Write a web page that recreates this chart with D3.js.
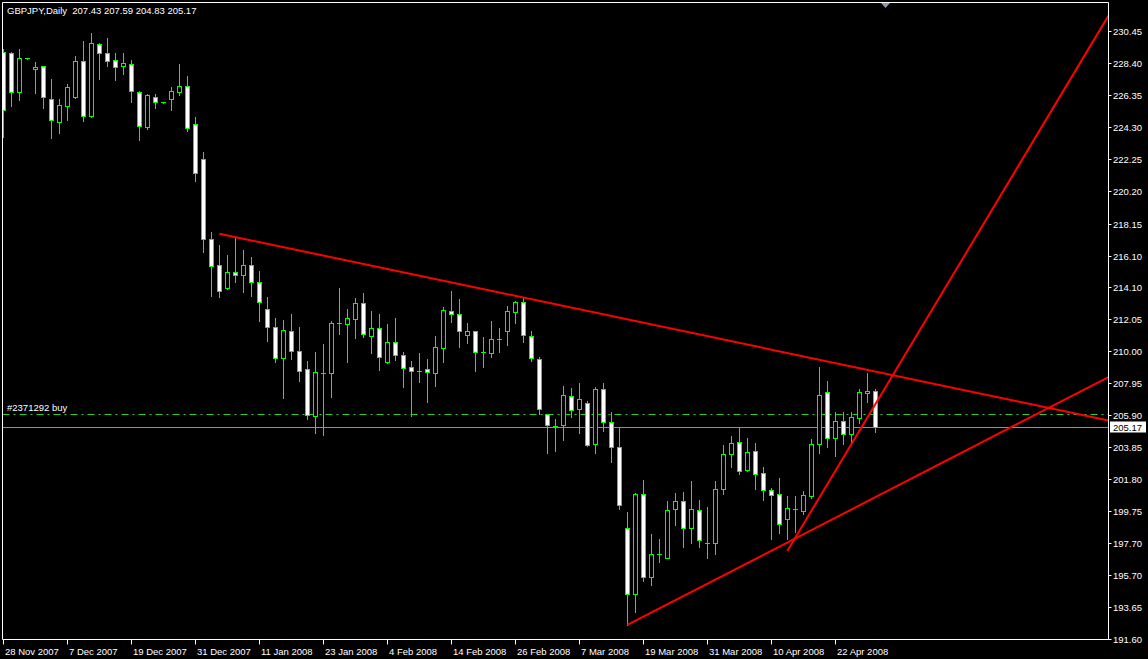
<!DOCTYPE html>
<html><head><meta charset="utf-8">
<script src="https://cdn.jsdelivr.net/npm/d3@7"></script>
<style>
html,body{margin:0;padding:0;background:#000;}
svg{display:block;}
text{font-family:"Liberation Sans",Arial,sans-serif;}
</style></head>
<body>
<svg id="chart" width="1148" height="659"></svg>
<script>
const opens  = [229.14,229.04,226.58,228.72,228.06,228.21,226.13,224.66,225.69,226.24,228.54,225.05,229.63,229.04,228.59,228.21,228.33,226.54,224.35,226.26,225.90,226.10,226.58,226.93,224.50,222.26,217.14,215.48,214.05,215.03,214.84,215.48,214.39,212.67,211.52,209.54,211.26,209.98,208.83,205.83,208.60,208.58,211.77,211.75,212.03,213.05,210.98,211.45,209.32,210.56,209.77,208.96,208.74,208.83,208.61,210.21,212.54,212.35,211.01,211.26,209.92,209.89,210.77,211.30,212.51,213.12,210.94,209.47,205.95,205.23,205.25,207.11,206.27,206.66,204.04,207.55,205.44,203.84,198.67,194.45,200.84,195.57,197.04,196.79,199.88,200.39,198.67,199.82,197.74,197.71,201.16,203.40,204.16,202.41,203.59,202.18,201.10,200.84,199.28,199.88,199.79,200.75,204.04,207.36,204.42,205.51,204.68,205.70,207.30,207.43];
const highs  = [229.31,229.10,229.31,228.74,228.48,228.25,227.39,226.11,227.07,228.86,229.82,230.33,229.68,230.02,229.06,229.06,228.61,226.62,226.43,226.43,225.92,226.86,228.35,227.59,224.96,222.73,217.59,216.76,216.12,217.23,216.44,215.99,215.12,213.44,212.09,211.96,212.37,211.54,209.36,209.92,210.45,211.92,214.01,212.67,213.37,213.69,212.56,212.37,211.73,212.11,209.96,209.38,209.87,209.49,210.96,212.82,213.84,213.33,211.79,211.30,210.90,211.92,211.47,212.88,213.22,213.47,211.28,209.60,205.97,205.65,207.76,207.62,207.94,206.79,207.72,207.94,206.08,205.12,199.69,200.90,201.75,198.30,197.98,200.41,200.92,200.99,201.69,200.47,200.03,201.69,203.99,204.57,205.10,204.42,204.10,202.57,201.22,201.90,200.73,200.75,201.03,204.36,208.96,208.06,206.08,206.08,206.08,207.55,208.58,207.59];
const lows   = [223.68,225.67,226.05,228.70,226.50,225.56,223.64,223.96,224.79,226.20,224.73,224.98,227.41,228.24,227.35,227.73,225.94,223.51,224.22,225.56,225.88,225.43,226.39,224.09,220.89,216.35,213.54,213.47,213.97,214.43,213.79,213.54,211.92,210.66,209.32,206.98,209.47,208.10,205.63,204.74,204.61,207.08,211.07,209.32,210.85,210.92,209.89,208.79,209.22,209.43,207.72,205.87,208.04,206.76,207.78,209.32,211.88,210.28,210.53,208.74,209.00,209.64,209.96,210.39,211.81,210.60,209.38,205.95,203.46,203.63,204.31,205.80,204.78,203.95,203.50,204.91,202.92,199.88,192.48,193.33,195.31,195.04,196.53,196.75,198.88,197.49,197.74,197.49,196.79,197.00,200.84,202.60,202.16,202.30,201.16,200.49,198.00,198.38,198.00,198.43,199.60,200.60,203.50,203.88,203.31,204.07,204.12,205.38,206.72,204.83];
const closes = [225.41,226.58,228.72,228.72,228.16,226.22,224.75,225.71,226.86,228.54,225.05,229.68,229.04,228.52,228.14,228.42,226.61,224.37,226.35,225.90,225.90,226.61,226.93,224.24,221.36,217.14,215.46,213.82,215.03,214.84,215.48,214.39,213.12,211.52,209.54,211.33,209.98,208.70,205.89,208.64,208.62,211.77,211.77,212.09,213.05,211.07,211.45,209.64,210.56,209.77,208.93,208.70,208.74,208.64,210.24,212.60,212.35,211.26,211.26,209.92,209.92,210.75,210.77,212.54,213.12,211.01,209.54,206.27,205.25,205.23,207.17,206.21,206.91,203.97,207.55,205.44,203.84,200.14,194.45,200.84,195.53,197.02,197.04,199.82,200.39,198.67,199.88,197.90,197.74,201.16,203.42,204.10,202.31,203.52,202.12,201.10,200.81,198.96,199.94,199.88,200.78,204.06,207.17,204.42,205.51,204.68,205.76,207.36,207.43,205.17];

const dateLabels = ["28 Nov 2007","7 Dec 2007","19 Dec 2007","31 Dec 2007","11 Jan 2008","23 Jan 2008","4 Feb 2008","14 Feb 2008","26 Feb 2008","7 Mar 2008","19 Mar 2008","31 Mar 2008","10 Apr 2008","22 Apr 2008"];
const barsPerDateLabel = 8;
const priceTicks = [230.45,228.40,226.35,224.30,222.25,220.20,218.15,216.10,214.10,212.05,210.00,207.95,205.90,203.85,201.80,199.75,197.70,195.70,193.65,191.60];

const symbolTitle = "GBPJPY,Daily";
const orderLabel = "#2371292 buy";
const orderPrice = 205.95;
const bidPrice = 205.17;

// trend lines: [startBar, startPrice, secondBar, secondPrice]
const trendStartBar   = [27, 78, 98];
const trendStartPrice = [217.50, 192.48, 197.21];
const trendEndBar     = [109, 109, 109];
const trendEndPrice   = [208.69, 200.65, 206.59];

const W = 1148, H = 659;
const L = 2.5, R = 1108.5, T = 2.5, B = 639.5;

const svg = d3.select("#chart");
svg.append("rect").attr("width", W).attr("height", H).attr("fill", "#000");

const x = d3.scaleLinear().domain([0, 109]).range([3.3, 875.3]);
const y = d3.scaleLinear().domain([191.60, 230.45]).range([638.7, 31.2]);

svg.append("clipPath").attr("id", "plot").append("rect")
  .attr("x", L).attr("y", T).attr("width", R - L).attr("height", B - T);

const plot = svg.append("g").attr("clip-path", "url(#plot)");

// order line (dash-dot)
const yo = Math.round(y(orderPrice)) + 0.5;
plot.append("line").attr("x1", L).attr("x2", R).attr("y1", yo).attr("y2", yo)
  .attr("stroke", "#32CD32").attr("stroke-width", 1).attr("stroke-dasharray", "7,4,2,4");
// bid line
const yb = Math.round(y(bidPrice)) + 0.5;
plot.append("line").attr("x1", L).attr("x2", R).attr("y1", yb).attr("y2", yb)
  .attr("stroke", "#8592A3").attr("stroke-width", 1);

// candles
const cg = plot.append("g");
opens.forEach((o, i) => {
  const c = closes[i], h = highs[i], l = lows[i];
  const cx = Math.round(x(i)) + 0.5;
  cg.append("line").attr("x1", cx).attr("x2", cx)
    .attr("y1", Math.round(y(h))).attr("y2", Math.round(y(l)) + 1)
    .attr("stroke", "#00FF00").attr("stroke-width", 1);
  const top = Math.round(y(Math.max(o, c))), bot = Math.round(y(Math.min(o, c)));
  if (bot - top < 1) {
    cg.append("line").attr("x1", cx - 2.5).attr("x2", cx + 2.5)
      .attr("y1", top + 0.5).attr("y2", top + 0.5)
      .attr("stroke", "#00FF00").attr("stroke-width", 1);
  } else {
    cg.append("rect").attr("x", cx - 2).attr("y", top + 0.5)
      .attr("width", 4).attr("height", bot - top)
      .attr("fill", c < o ? "#FFFFFF" : "#000000")
      .attr("stroke", "#00FF00").attr("stroke-width", 1);
  }
});

// trend lines (rays to right edge)
const iEdge = x.invert(R);
trendStartBar.forEach((b0, k) => {
  const p0 = trendStartPrice[k], b1 = trendEndBar[k], p1 = trendEndPrice[k];
  const slope = (p1 - p0) / (b1 - b0);
  const pe = p0 + slope * (iEdge - b0);
  plot.append("line")
    .attr("x1", x(b0)).attr("y1", y(p0))
    .attr("x2", x(iEdge)).attr("y2", y(pe))
    .attr("stroke", "#FF0000").attr("stroke-width", 2);
});

// chart shift marker
svg.append("path").attr("d", "M881,3 L890,3 L885.5,8 Z").attr("fill", "#8899AA");

// frame
svg.append("path")
  .attr("d", `M${L},${T} H${R} V${B} H${L} Z`)
  .attr("fill", "none").attr("stroke", "#FFFFFF").attr("stroke-width", 1);

// price axis
const pa = svg.append("g");
priceTicks.forEach(p => {
  const yy = Math.round(y(p)) + 0.5;
  pa.append("line").attr("x1", R).attr("x2", R + 3).attr("y1", yy).attr("y2", yy)
    .attr("stroke", "#FFFFFF");
  pa.append("text").attr("x", 1113).attr("y", yy + 3.5).attr("fill", "#FFFFFF")
    .attr("font-size", "9.5px").text(p.toFixed(2));
});
// bid label box
pa.append("rect").attr("x", 1110).attr("y", yb - 6).attr("width", 36).attr("height", 11)
  .attr("fill", "#FFFFFF");
pa.append("text").attr("x", 1113).attr("y", yb + 3.5).attr("fill", "#000000")
  .attr("font-size", "9.5px").text(bidPrice.toFixed(2));

// time axis
const ta = svg.append("g");
dateLabels.forEach((lab, k) => {
  const xx = Math.round(x(k * barsPerDateLabel)) + 0.5;
  ta.append("line").attr("x1", xx).attr("x2", xx).attr("y1", B).attr("y2", B + 5)
    .attr("stroke", "#FFFFFF");
  ta.append("text").attr("x", xx + 1.5).attr("y", 655).attr("fill", "#FFFFFF")
    .attr("font-size", "9.5px").text(lab);
});

// title
svg.append("text").attr("x", 7).attr("y", 14).attr("fill", "#FFFFFF").attr("font-size", "9.5px")
  .attr("xml:space", "preserve")
  .text(`${symbolTitle}  ${opens[109].toFixed(2)} ${highs[109].toFixed(2)} ${lows[109].toFixed(2)} ${closes[109].toFixed(2)}`);

// order label
svg.append("text").attr("x", 7).attr("y", 411).attr("fill", "#FFFFFF").attr("font-size", "9.5px")
  .text(orderLabel);
</script>
</body></html>
